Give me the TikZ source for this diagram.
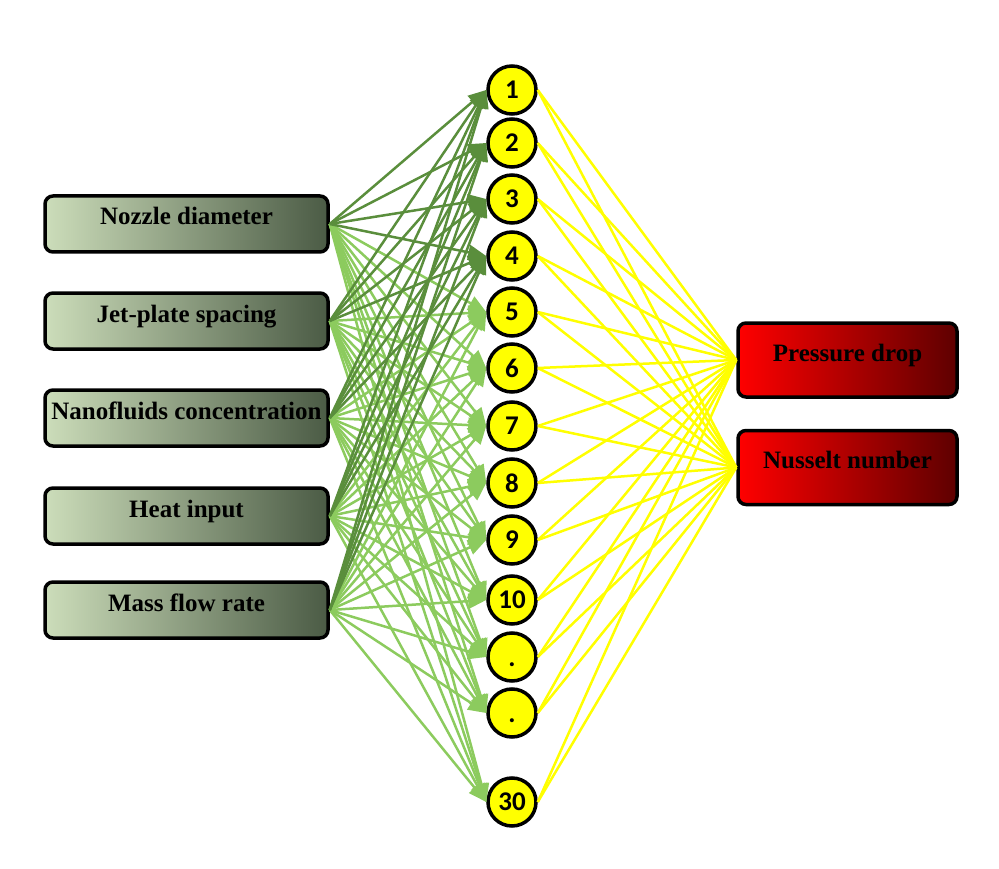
\documentclass[tikz,border=0pt]{standalone}
\usepackage{fontspec}
\setmainfont{Liberation Serif}
\newfontfamily\numfont{Carlito}
\usepackage{xcolor}
\definecolor{cIn}{HTML}{CCDDBA}
\definecolor{cInDark}{HTML}{4B5B45}
\definecolor{cOut}{HTML}{FF0000}
\definecolor{cOutDark}{HTML}{5E0000}
\definecolor{cArrowDark}{HTML}{5A8E3C}
\definecolor{cArrowLight}{HTML}{8CCB5E}
\definecolor{cLine}{HTML}{FFFF00}
\usepackage{tikz}
\usetikzlibrary{arrows.meta}
\tikzset{
  node-in/.style={draw=black,line width=3.5pt,rounded corners=8pt,
    left color=cIn,right color=cInDark,minimum width=283pt,
    minimum height=56pt,inner sep=0pt,align=center,
    text height=18pt,text depth=16pt,
    font=\fontsize{25}{30}\selectfont\bfseries},
  node-out/.style={node-in,left color=cOut,right color=cOutDark,
    minimum width=219pt,minimum height=74pt},
  node-hidden/.style={draw=black,line width=3.5pt,circle,fill=cLine,
    minimum size=48pt,inner sep=0pt,
    font=\numfont\bfseries\fontsize{27}{30}\selectfont},
  arrow-in/.style={-{Triangle[length=18pt,width=15pt]},line width=2.5pt},
  line-out/.style={draw=cLine,line width=2.5pt},
}
\newcommand{\lowdot}{\raisebox{-9pt}[0pt][0pt]{.}}

\begin{document}
\begin{tikzpicture}[x=1pt,y=-1pt]
  \useasboundingbox (0,0) rectangle (999,869);
  % inputs
  \node[node-in] (in1) at (186.5,224) {Nozzle diameter};
  \node[node-in] (in2) at (186.5,321) {Jet-plate spacing};
  \node[node-in] (in3) at (186.5,418) {Nanofluids concentration};
  \node[node-in] (in4) at (186.5,516) {Heat input};
  \node[node-in] (in5) at (186.5,610) {Mass flow rate};
  % hidden layer
  \foreach \name/\lab/\y in {h1/1/90,h2/2/143,h3/3/199,h4/4/256,h5/5/312,
      h6/6/368,h7/7/426,h8/8/483,h9/9/540,h10/10/600,hA/\lowdot/657,
      hB/\lowdot/713,h30/30/802}
    \node[node-hidden] (\name) at (512,\y) {\lab};
  % outputs
  \node[node-out] (out1) at (847.5,360) {Pressure drop};
  \node[node-out] (out2) at (847.5,467.5) {Nusselt number};
  % connections
  \foreach \i in {1,...,5}
    \foreach \h in {h5,h6,h7,h8,h9,h10,hA,hB,h30}
      \draw[arrow-in,draw=cArrowLight,fill=cArrowLight] (in\i.east) -- (\h.west);
  \foreach \i in {1,...,5}
    \foreach \h in {h1,h2,h3,h4}
      \draw[arrow-in,draw=cArrowDark,fill=cArrowDark] (in\i.east) -- (\h.west);
  \foreach \h in {h1,h2,h3,h4,h5,h6,h7,h8,h9,h10,hA,hB,h30}
    \foreach \o in {out1,out2}
      \draw[line-out] (\h.east) -- (\o.west);
\end{tikzpicture}
\end{document}
